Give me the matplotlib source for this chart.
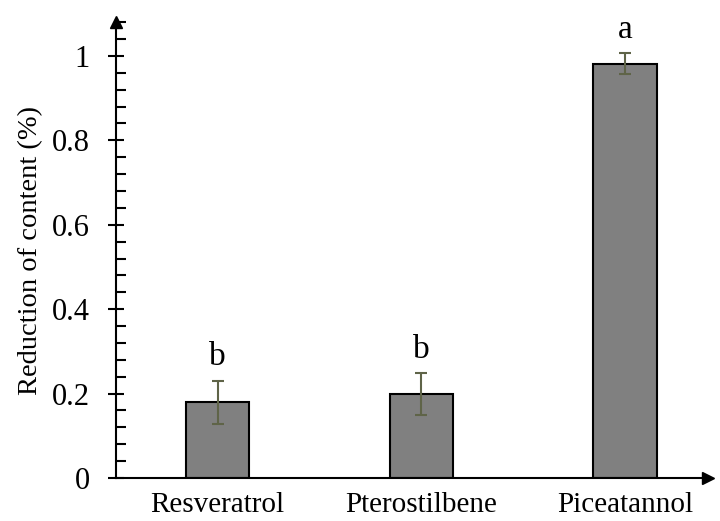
import numpy as np
import matplotlib.pyplot as plt
from matplotlib.ticker import MultipleLocator

plt.rcParams['font.family'] = ['Liberation Serif', 'DejaVu Serif']

# data
compounds = ['Resveratrol', 'Pterostilbene', 'Piceatannol']
reduction = [0.179, 0.199, 0.981]
errors = [0.052, 0.05, 0.025]
letters = ['b', 'b', 'a']

fig = plt.figure(figsize=(7.2, 5.21), dpi=100)
ax = fig.add_axes([0.161, 0.0825, 0.823, 0.875])

x = np.arange(len(compounds))
ax.bar(x, reduction, width=0.31, color='#808080', edgecolor='black', linewidth=1.5,
       yerr=errors, error_kw=dict(ecolor='#5f6448', elinewidth=1.5, capsize=4, capthick=1.5),
       zorder=2)

# significance letters
for xi, v, e, lab in zip(x, reduction, errors, letters):
    ax.text(xi, v + e + 0.036, lab, ha='center', va='baseline', fontsize=24)

ax.set_xlim(-0.5, 2.41)
ax.set_ylim(0, 1.08)
ax.set_xticks(x)
ax.set_xticklabels(compounds, fontsize=21)
ax.tick_params(axis='x', length=0, pad=10)

ax.yaxis.set_minor_locator(MultipleLocator(0.04))
ax.set_yticks([0, 0.2, 0.4, 0.6, 0.8, 1.0])
ax.set_yticklabels(['0', '0.2', '0.4', '0.6', '0.8', '1'], fontsize=22)
ax.tick_params(axis='y', which='major', direction='inout', length=12, width=1.5, pad=13)
ax.tick_params(axis='y', which='minor', direction='in', length=7, width=1.5)
ax.set_ylabel('Reduction of content (%)', fontsize=20.5, labelpad=6)

ax.spines['top'].set_visible(False)
ax.spines['right'].set_visible(False)
ax.spines['left'].set_linewidth(1.5)
ax.spines['bottom'].set_linewidth(1.5)

# arrow heads on the axes
ax.plot(1, 0, '>k', markersize=9, transform=ax.get_yaxis_transform(), clip_on=False)
ax.plot(-0.5, 1, '^k', markersize=9, transform=ax.get_xaxis_transform(), clip_on=False)

fig.savefig('out.png', dpi=100)
